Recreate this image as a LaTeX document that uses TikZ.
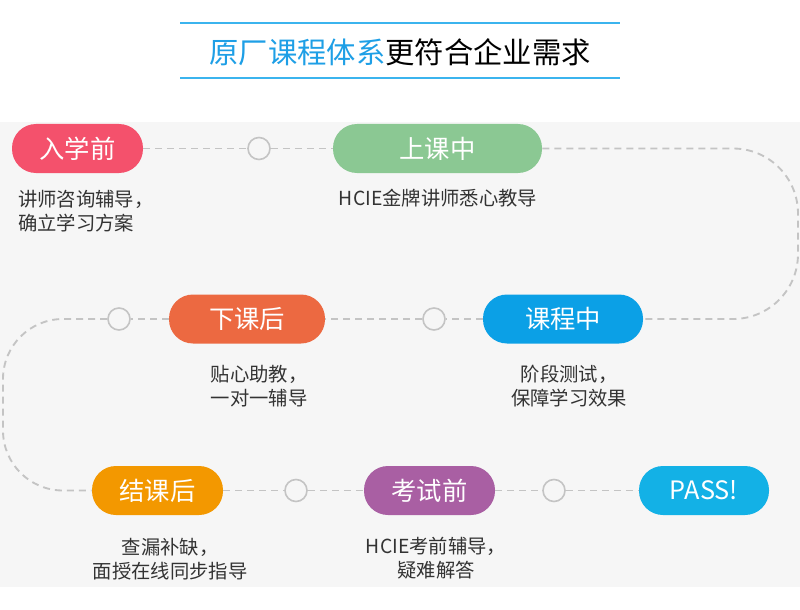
\documentclass[tikz,border=0pt]{standalone}
\usepackage{fontspec}
\setmainfont{Noto Sans CJK SC}
\definecolor{titleblue}{HTML}{1E9FE6}
\definecolor{rulecolor}{HTML}{3BB4EE}
\definecolor{bggray}{HTML}{F6F6F6}
\definecolor{linegray}{HTML}{C4C4C4}
\definecolor{ringgray}{HTML}{C4C4C4}
\definecolor{notegray}{HTML}{333333}
\definecolor{ruxuecol}{HTML}{F4516C}
\definecolor{shangkecol}{HTML}{8BC893}
\definecolor{xiakecol}{HTML}{EC6941}
\definecolor{kechengcol}{HTML}{0BA0E6}
\definecolor{jiekecol}{HTML}{F39800}
\definecolor{kaoshicol}{HTML}{A95FA3}
\definecolor{passcol}{HTML}{13B1E6}

\begin{document}
\begin{tikzpicture}[
                x=0.75pt, y=-0.75pt,
                stage/.style={rectangle, rounded corners=18pt, minimum height=36.75pt, inner sep=0pt,
                    fill=#1, text=white, font=\fontsize{19pt}{19pt}\selectfont},
                hub/.style={circle, minimum size=16.5pt, inner sep=0pt, draw=ringgray, line width=1.2pt, fill=bggray},
                note/.style={text=notegray, inner sep=0pt, font=\fontsize{14.5pt}{18pt}\selectfont},
                flow/.style={draw=linegray, line width=1.4pt, dash pattern=on 5.25pt off 3.75pt},
                titlerule/.style={draw=rulecolor, line width=1.5pt}
            ]
            \useasboundingbox (0,0) rectangle (800,610);
            \fill[white] (0,0) rectangle (800,610);
            \fill[bggray] (0,122) rectangle (800,587);

            \node[font=\fontsize{22pt}{22pt}\selectfont] (title) at (400,52)
                {\textcolor{titleblue}{原厂课程体系}更符合企业需求};
            \draw[titlerule] (180,23) -- (620,23);
            \draw[titlerule] (180,78) -- (620,78);

            \node[stage=ruxuecol, minimum width=98.25pt] (ruxue) at (77.5,148.5) {入学前};
            \node[hub] (hub1) at (259,148.5) {};
            \node[stage=shangkecol, minimum width=156.75pt] (shangke) at (437.5,148.5) {上课中};

            \node[hub] (hub2) at (119,319) {};
            \node[stage=xiakecol, minimum width=117pt] (xiake) at (247,319) {下课后};
            \node[hub] (hub3) at (434,319) {};
            \node[stage=kechengcol, minimum width=120pt] (kecheng) at (563,319) {课程中};

            \node[stage=jiekecol, minimum width=98.25pt] (jieke) at (157.5,490.5) {结课后};
            \node[hub] (hub4) at (296,490.5) {};
            \node[stage=kaoshicol, minimum width=98.25pt] (kaoshi) at (429.5,490.5) {考试前};
            \node[hub] (hub5) at (554,490.5) {};
            \node[stage=passcol, minimum width=97.5pt] (pass) at (704,490.5) {PASS!};

            \coordinate (turnne) at (798,148.5);
            \coordinate (turnse) at (798,319);
            \coordinate (turnnw) at (3,319);
            \coordinate (turnsw) at (3,490.5);

            \draw[flow] (ruxue) -- (hub1) -- (shangke);
            \draw[flow, rounded corners=48.75pt] (shangke) -- (turnne) -- (turnse) -- (kecheng);
            \draw[flow] (kecheng) -- (hub3) -- (xiake) -- (hub2);
            \draw[flow, rounded corners=45pt] (hub2) -- (turnnw) -- (turnsw) -- (jieke);
            \draw[flow] (jieke) -- (hub4) -- (kaoshi) -- (hub5) -- (pass);

            \node[note, anchor=west, align=left] (zixun) at (18,211.5) {讲师咨询辅导，\\确立学习方案};
            \node[note] (jiaodao) at (438,198) {HCIE金牌讲师悉心教导};
            \node[note, align=left] (zhujiao) at (259,386.5) {贴心助教，\\一对一辅导};
            \node[note, align=center] (ceshi) at (569,386) {阶段测试，\\保障学习效果};
            \node[note, align=center] (chalou) at (170,559.5) {查漏补缺，\\面授在线同步指导};
            \node[note, align=center] (fudao) at (436,558) {HCIE考前辅导，\\疑难解答};
        \end{tikzpicture}
\end{document}
